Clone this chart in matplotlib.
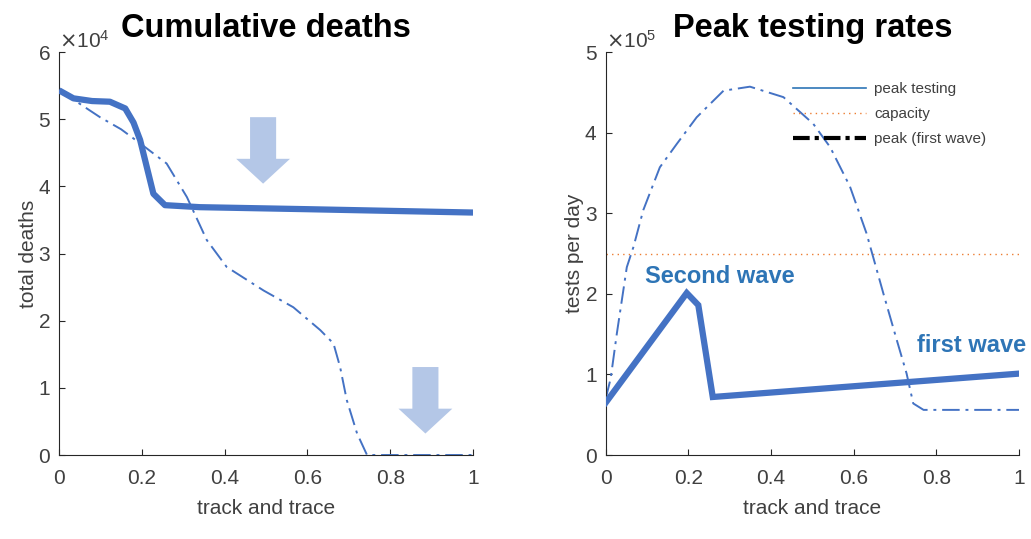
import matplotlib
matplotlib.use("Agg")
import matplotlib.pyplot as plt
from matplotlib.lines import Line2D
from matplotlib.ticker import ScalarFormatter

plt.rcParams["font.family"] = ["Liberation Sans", "DejaVu Sans"]

# Cumulative deaths vs track and trace
tt_solid_deaths = [0.0, 0.035, 0.08, 0.123, 0.16, 0.18, 0.196, 0.216, 0.228, 0.256, 0.34, 0.6, 1.0]
deaths_solid = [54300, 53100, 52700, 52600, 51600, 49500, 46900, 41900, 38900, 37200, 36900, 36600, 36100]
tt_dash_deaths = [0.0, 0.05, 0.099, 0.15, 0.196, 0.26, 0.309, 0.357, 0.405, 0.494, 0.566,
                  0.631, 0.663, 0.679, 0.695, 0.72, 0.744, 0.8, 1.0]
deaths_dash = [54300, 52300, 50300, 48500, 46400, 43400, 38400, 32000, 28000, 24500, 22000,
               18600, 16600, 13100, 8200, 3200, 0, 0, 0]

# Peak testing rates vs track and trace
tt_solid_tests = [0.0, 0.196, 0.224, 0.259, 1.0]
tests_solid = [65000, 201000, 186000, 72000, 101000]
tt_dash_tests = [0.0, 0.012, 0.027, 0.051, 0.067, 0.091, 0.131, 0.172, 0.22, 0.285, 0.349,
                 0.43, 0.502, 0.543, 0.591, 0.631, 0.672, 0.704, 0.728, 0.744, 0.769, 1.0]
tests_dash = [70000, 95000, 151000, 233000, 258000, 304000, 357000, 386000, 419000, 452000, 457000,
              444000, 411000, 382000, 333000, 275000, 200000, 143000, 101000, 64000, 56000, 56000]
capacity = 250000

# Arrows: x centre, top, tip (deaths)
arrow_x = [0.493, 0.885]
arrow_top = [50300, 13100]
arrow_tip = [40400, 3200]

blue = "#4472c4"
text_blue = "#2e75b6"
grey = "#404040"

fig = plt.figure(figsize=(10.31, 5.39), dpi=100)
ax1 = fig.add_axes([0.0572, 0.1558, 0.4016, 0.7477])
ax2 = fig.add_axes([0.5875, 0.1558, 0.4009, 0.7477])

for ax in (ax1, ax2):
    ax.spines["top"].set_visible(False)
    ax.spines["right"].set_visible(False)
    ax.spines["left"].set_color("#262626")
    ax.spines["bottom"].set_color("#262626")
    ax.tick_params(direction="in", length=4, labelsize=15, colors="#262626", labelcolor=grey)
    ax.tick_params(axis="x", pad=10)
    ax.tick_params(axis="y", pad=6)
    ax.set_xlim(0, 1)
    ax.set_xticks([0, 0.2, 0.4, 0.6, 0.8, 1])
    ax.set_xticklabels(["0", "0.2", "0.4", "0.6", "0.8", "1"])
    ax.set_xlabel("track and trace", fontsize=15, color=grey, labelpad=8)
    fmt = ScalarFormatter(useMathText=True)
    fmt.set_powerlimits((0, 0))
    ax.yaxis.set_major_formatter(fmt)
    ax.yaxis.get_offset_text().set_fontsize(15)
    ax.yaxis.get_offset_text().set_color(grey)

# Left panel
for x, top, tip in zip(arrow_x, arrow_top, arrow_tip):
    ax1.arrow(x, top, 0, tip - top, width=0.063, head_width=0.13, head_length=3700,
              length_includes_head=True, color="#b4c7e7", lw=0, zorder=1)
ax1.plot(tt_dash_deaths, deaths_dash, color=blue, lw=1.4, ls=(0, (9, 3, 1.5, 3)), zorder=2)
ax1.plot(tt_solid_deaths, deaths_solid, color=blue, lw=4.5, solid_capstyle="butt", zorder=3)
ax1.set_ylim(0, 60000)
ax1.set_yticks([0, 10000, 20000, 30000, 40000, 50000, 60000])
ax1.set_ylabel("total deaths", fontsize=15, color=grey, labelpad=0)
ax1.set_title("Cumulative deaths", fontsize=23.5, fontweight="bold", pad=11)

# Right panel
ax2.plot(tt_dash_tests, tests_dash, color=blue, lw=1.4, ls=(0, (9, 3, 1.5, 3)), zorder=2)
ax2.axhline(capacity, color="#ed7d31", lw=1.0, ls=(0, (1, 3)), zorder=1)
ax2.plot(tt_solid_tests, tests_solid, color=blue, lw=4.5, solid_joinstyle="miter", zorder=3)
ax2.set_ylim(0, 500000)
ax2.set_yticks([0, 100000, 200000, 300000, 400000, 500000])
ax2.set_ylabel("tests per day", fontsize=15, color=grey, labelpad=0)
ax2.set_title("Peak testing rates", fontsize=23.5, fontweight="bold", pad=11)
ax2.text(0.095, 221000, "Second wave", fontsize=17, fontweight="bold", color=text_blue,
         va="center")
ax2.text(0.752, 136000, "first wave", fontsize=17, fontweight="bold", color=text_blue,
         va="center", clip_on=False)

handles = [
    Line2D([], [], color="#2e75b6", lw=1.2),
    Line2D([], [], color="#ed7d31", lw=1.0, ls=(0, (1, 3))),
    Line2D([], [], color="black", lw=3, ls=(0, (4, 1.2, 1, 1.2))),
]
ax2.legend(handles, ["peak testing", "capacity", "peak (first wave)"], loc="upper left",
           bbox_to_anchor=(0.42, 0.96), frameon=False, fontsize=11, handlelength=4.8,
           labelspacing=0.72, handletextpad=0.5, labelcolor=grey)

fig.savefig("out.png", dpi=100)
